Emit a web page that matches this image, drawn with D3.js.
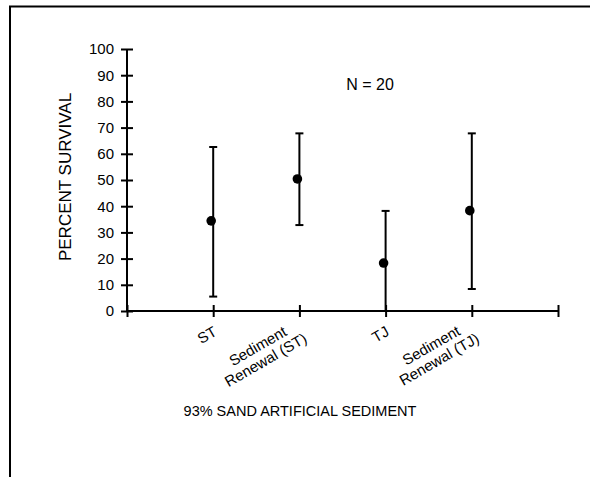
<!DOCTYPE html>
<html>
<head>
<meta charset="utf-8">
<script src="https://cdn.jsdelivr.net/npm/d3@7"></script>
<style>
  body { margin: 0; background: #fff; }
  svg text { font-family: Arial, "Liberation Sans", sans-serif; fill: #000; }
</style>
</head>
<body>
<svg width="590" height="477"></svg>
<script>
// data
var categories = [["ST"], ["Sediment", "Renewal (ST)"], ["TJ"], ["Sediment", "Renewal (TJ)"]];
var means = [34.4, 50.4, 18.3, 38.3];
var upper = [62.6, 67.8, 38.2, 67.8];
var lower = [5.5, 32.8, 0, 8.4];
var yTicks = [0, 10, 20, 30, 40, 50, 60, 70, 80, 90, 100];

var svg = d3.select("svg");

// outer frame (cut off at right and bottom like the original)
svg.append("path")
  .attr("d", "M10,480 L10,6.5 L595,6.5")
  .attr("fill", "none")
  .attr("stroke", "#000")
  .attr("stroke-width", 2);

var margin = { left: 127, top: 49 };
var plotW = 431, plotH = 262;

var plot = svg.append("g")
  .attr("transform", "translate(" + margin.left + "," + margin.top + ")");

var yScale = d3.scaleLinear().domain([0, 100]).range([plotH, 0]);
// categories sit on ticks 1..4, with empty slots at both ends
var xScale = d3.scaleLinear().domain([0, 5]).range([0, plotW]);

// y axis
var yAxis = d3.axisLeft(yScale).tickValues(yTicks).tickSize(6).tickPadding(7);
var yG = plot.append("g").call(yAxis);
yG.attr("font-family", null).attr("font-size", null);
yG.select(".domain").attr("d", "M0," + plotH + "V0").attr("stroke-width", 2);
yG.selectAll(".tick line").attr("x1", -6).attr("x2", 6).attr("stroke-width", 2);
yG.selectAll(".tick text").style("font-size", "15px");

// x axis
var xAxis = d3.axisBottom(xScale).tickValues([0, 1, 2, 3, 4, 5]).tickSize(6).tickFormat("");
var xG = plot.append("g").attr("transform", "translate(0," + plotH + ")").call(xAxis);
xG.select(".domain").attr("d", "M0,0H" + plotW).attr("stroke-width", 2);
xG.selectAll(".tick line").attr("y1", -6).attr("y2", 6).attr("stroke-width", 2);

// rotated category labels, anchored at the middle of their right edge
var lineH = 16;
categories.forEach(function(lines, i) {
  var g = plot.append("g")
    .attr("transform", "translate(" + (xScale(i + 1) + 2) + "," + (plotH + 19) + ") rotate(-30)");
  var t = g.append("text").style("font-size", "15px");
  lines.forEach(function(s, j) {
    t.append("tspan")
      .attr("y", (j - (lines.length - 1) / 2) * lineH)
      .attr("dy", "0.35em")
      .text(s);
  });
  var maxW = 0;
  t.selectAll("tspan").each(function() {
    maxW = Math.max(maxW, this.getComputedTextLength());
  });
  t.selectAll("tspan").attr("x", -maxW / 2).attr("text-anchor", "middle");
});

// error bars
var capW = 4;
var bars = plot.selectAll("g.err").data(means).enter().append("g").attr("class", "err");
bars.append("line")
  .attr("x1", function(d, i) { return xScale(i + 1); })
  .attr("x2", function(d, i) { return xScale(i + 1); })
  .attr("y1", function(d, i) { return yScale(upper[i]); })
  .attr("y2", function(d, i) { return yScale(lower[i]); })
  .attr("stroke", "#000").attr("stroke-width", 2);
bars.append("line")
  .attr("x1", function(d, i) { return xScale(i + 1) - capW; })
  .attr("x2", function(d, i) { return xScale(i + 1) + capW; })
  .attr("y1", function(d, i) { return yScale(upper[i]); })
  .attr("y2", function(d, i) { return yScale(upper[i]); })
  .attr("stroke", "#000").attr("stroke-width", 2);
bars.append("line")
  .attr("x1", function(d, i) { return xScale(i + 1) - capW; })
  .attr("x2", function(d, i) { return xScale(i + 1) + capW; })
  .attr("y1", function(d, i) { return yScale(lower[i]); })
  .attr("y2", function(d, i) { return yScale(lower[i]); })
  .attr("stroke", "#000").attr("stroke-width", 2);
bars.append("circle")
  .attr("cx", function(d, i) { return xScale(i + 1) - 2; })
  .attr("cy", function(d) { return yScale(d); })
  .attr("r", 4.8)
  .attr("fill", "#000");

// texts
svg.append("text")
  .attr("x", 370).attr("y", 90)
  .attr("text-anchor", "middle")
  .style("font-size", "16px")
  .text("N = 20");

svg.append("text")
  .attr("transform", "translate(71,177) rotate(-90)")
  .attr("text-anchor", "middle")
  .style("font-size", "17px")
  .text("PERCENT SURVIVAL");

svg.append("text")
  .attr("x", 300).attr("y", 416)
  .attr("text-anchor", "middle")
  .style("font-size", "14.5px")
  .text("93% SAND ARTIFICIAL SEDIMENT");
</script>
</body>
</html>
